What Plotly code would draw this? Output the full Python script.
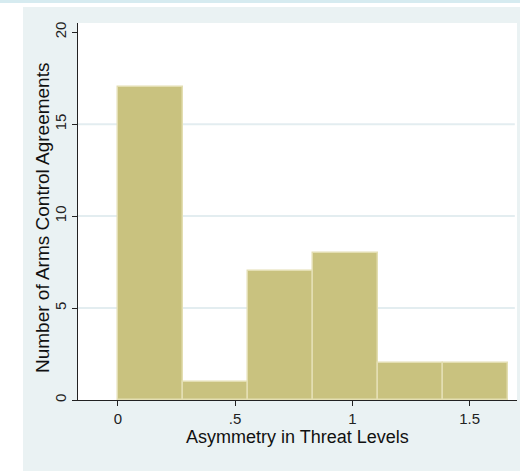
import plotly.graph_objects as go

# Histogram of threat-level asymmetry (6 equal-width bins starting at 0)
bin_start = 0.0
bin_width = 0.2775
counts = [17, 1, 7, 8, 2, 2]

x_ticks = [0, 0.5, 1, 1.5]
x_tick_labels = ["0", ".5", "1", "1.5"]
y_ticks = [0, 5, 10, 15, 20]
y_tick_labels = ["0", "5", "10", "15", "20"]
grid_values = [5, 10, 15]

x_title = "Asymmetry in Threat Levels"
y_title = "Number of Arms Control Agreements"

centers = [bin_start + bin_width * (i + 0.5) for i in range(len(counts))]

FONT = "Liberation Sans, Arial, sans-serif"
REGION = "#EAF2F3"
BAR_FILL = "#C9C27F"
BAR_LINE = "#E3DEB2"
GRID = "#E3EDF0"

W, H = 520, 471
ML, MR, MT, MB = 78, 3, 23, 71
PW = W - ML - MR
PH = H - MT - MB


def px_x(p):
    return (p - ML) / PW


def px_y(p):
    return (H - MB - p) / PH


fig = go.Figure(
    go.Bar(
        x=centers,
        y=counts,
        width=bin_width,
        marker=dict(color=BAR_FILL, line=dict(color=BAR_LINE, width=1.5)),
        hoverinfo="x+y",
    )
)

shapes = []
for g in grid_values:
    shapes.append(dict(type="line", xref="paper", yref="y", x0=0, x1=0.995, y0=g, y1=g,
                       line=dict(color=GRID, width=2), layer="below"))
# white page border around the graph region, plus the thin top band
shapes.append(dict(type="rect", xref="paper", yref="paper", x0=px_x(0), x1=px_x(23),
                   y0=px_y(H), y1=px_y(0), fillcolor="white", line=dict(width=0), layer="below"))
shapes.append(dict(type="rect", xref="paper", yref="paper", x0=px_x(0), x1=px_x(W),
                   y0=px_y(7), y1=px_y(0), fillcolor="white", line=dict(width=0), layer="below"))
shapes.append(dict(type="rect", xref="paper", yref="paper", x0=px_x(0), x1=px_x(W),
                   y0=px_y(3), y1=px_y(0), fillcolor="#D6EBF0", line=dict(width=0), layer="below"))

# axis titles placed as annotations
annotations = [
    dict(text=x_title, xref="paper", yref="paper", x=px_x(297), y=px_y(437),
         xanchor="center", yanchor="middle", showarrow=False,
         font=dict(size=18, family=FONT, color="#111")),
    dict(text=y_title, xref="paper", yref="paper", x=px_x(43), y=px_y(218),
         xanchor="center", yanchor="middle", textangle=-90, showarrow=False,
         font=dict(size=19, family=FONT, color="#111")),
]

fig.update_layout(
    width=W,
    height=H,
    margin=dict(l=ML, r=MR, t=MT, b=MB, pad=0),
    paper_bgcolor=REGION,
    plot_bgcolor="white",
    showlegend=False,
    bargap=0,
    shapes=shapes,
    annotations=annotations,
    font=dict(family=FONT, color="#111"),
    xaxis=dict(
        range=[-0.17, 1.702],
        tickvals=x_ticks,
        ticktext=x_tick_labels,
        ticks="outside",
        ticklen=5,
        tickcolor="#222",
        showgrid=False,
        zeroline=False,
        showline=True,
        linecolor="#222",
        linewidth=1,
        tickfont=dict(size=15, family=FONT, color="#222"),
    ),
    yaxis=dict(
        range=[0, 20.5],
        tickvals=y_ticks,
        ticktext=y_tick_labels,
        tickangle=-90,
        ticks="outside",
        ticklen=5,
        tickcolor="#222",
        showgrid=False,
        zeroline=False,
        showline=True,
        linecolor="#222",
        linewidth=1,
        tickfont=dict(size=15, family=FONT, color="#222"),
    ),
)

fig.write_html("out.html")
